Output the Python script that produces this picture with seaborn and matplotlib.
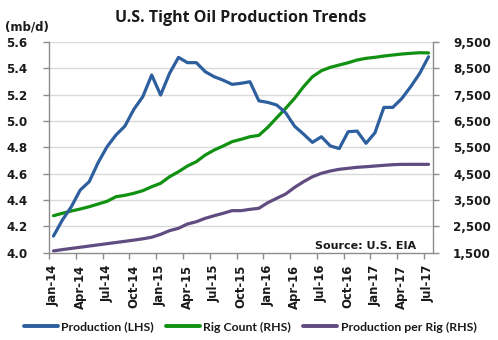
import numpy as np
import pandas as pd
import matplotlib
matplotlib.use("Agg")
import matplotlib.pyplot as plt
import seaborn as sns
from matplotlib.ticker import FixedLocator, FuncFormatter
from matplotlib.lines import Line2D

# Monthly series, Jan-2014 .. Jul-2017
months = pd.date_range("2014-01-01", "2017-07-01", freq="MS")
month_labels = [d.strftime("%b-%y") for d in months]

production_mbd = [
    4.125, 4.247, 4.348, 4.475, 4.538, 4.683, 4.804, 4.893, 4.961, 5.088, 5.184, 5.349,
    5.197, 5.362, 5.483, 5.443, 5.443, 5.374, 5.336, 5.310, 5.278, 5.286, 5.298, 5.153,
    5.141, 5.121, 5.062, 4.960, 4.900, 4.837, 4.880, 4.810, 4.790, 4.918, 4.923, 4.830,
    4.910, 5.103, 5.103, 5.170, 5.260, 5.360, 5.488,
]
rig_count = [
    2898, 2990, 3077, 3153, 3240, 3343, 3445, 3620, 3673, 3750, 3849, 4000,
    4130, 4380, 4570, 4787, 4952, 5205, 5395, 5547, 5712, 5800, 5900, 5952,
    6257, 6622, 6978, 7360, 7800, 8180, 8408, 8537, 8625, 8712, 8815, 8880,
    8918, 8967, 9005, 9043, 9070, 9092, 9085,
]
production_per_rig = [
    1560, 1610, 1655, 1700, 1745, 1790, 1835, 1880, 1925, 1970, 2020, 2080,
    2190, 2330, 2420, 2583, 2670, 2800, 2898, 2990, 3090, 3090, 3140, 3180,
    3393, 3560, 3723, 3975, 4190, 4380, 4510, 4597, 4662, 4700, 4738, 4760,
    4787, 4813, 4837, 4850, 4850, 4850, 4850,
]

left_ticks = [4.0, 4.2, 4.4, 4.6, 4.8, 5.0, 5.2, 5.4, 5.6]
right_ticks = [1500, 2500, 3500, 4500, 5500, 6500, 7500, 8500, 9500]

df = pd.DataFrame({
    "idx": np.arange(len(months)),
    "Production (LHS)": production_mbd,
    "Rig Count (RHS)": rig_count,
    "Production per Rig (RHS)": production_per_rig,
})

BLUE = "#2D5F9E"
GREEN = "#119111"
PURPLE = "#604C80"
GRID = "#D9D9D9"
SPINE = "#8C8C8C"

sns.set_theme(style="white")
plt.rcParams["font.family"] = ["DejaVu Sans"]

fig = plt.figure(figsize=(4.98, 3.40), dpi=100)
ax = fig.add_axes([49 / 498, 1 - 252.5 / 340, (433 - 49) / 498, (252.5 - 42) / 340])
ax2 = ax.twinx()

sns.lineplot(data=df, x="idx", y="Production (LHS)", ax=ax, color=BLUE, lw=2.3, zorder=5)
sns.lineplot(data=df, x="idx", y="Rig Count (RHS)", ax=ax2, color=GREEN, lw=2.3)
sns.lineplot(data=df, x="idx", y="Production per Rig (RHS)", ax=ax2, color=PURPLE, lw=2.3)

# put the blue production line in front of the RHS series
ax.set_zorder(2)
ax.patch.set_visible(False)
ax2.set_zorder(1)

n = len(months)
for a in (ax, ax2):
    a.set_xlim(-0.5, n - 0.5)
    a.set_xlabel("")
    a.set_ylabel("")

ax.set_ylim(4.0, 5.6)
ax2.set_ylim(1500, 9500)

ax.yaxis.set_major_locator(FixedLocator(left_ticks))
ax.yaxis.set_major_formatter(FuncFormatter(lambda v, p: f"{v:.1f}"))
ax2.yaxis.set_major_locator(FixedLocator(right_ticks))
ax2.yaxis.set_major_formatter(FuncFormatter(lambda v, p: f"{int(round(v)):,}"))

# horizontal gridlines on the shared scale
ax2.grid(False)
ax.grid(False)
for t in right_ticks[1:]:
    ax2.axhline(t, color=GRID, lw=1.0, zorder=0)

# quarterly category labels, tick marks sit between categories
label_pos = list(range(0, n, 3))
ax.xaxis.set_major_locator(FixedLocator(label_pos))
ax.set_xticklabels([month_labels[i] for i in label_pos], rotation=90)
ax.xaxis.set_minor_locator(FixedLocator([p - 0.5 for p in label_pos]))
ax.tick_params(axis="x", which="major", length=0, pad=9)
ax.tick_params(axis="x", which="minor", length=4.5, width=1, color=SPINE, bottom=True)
ax2.tick_params(axis="x", which="both", bottom=False, labelbottom=False)

ax.tick_params(axis="y", which="major", left=True, length=4.5, width=1, color=SPINE, pad=11)
ax2.tick_params(axis="y", which="major", right=True, length=4.5, width=1, color=SPINE, pad=10)

for lab in ax.get_xticklabels() + ax.get_yticklabels() + ax2.get_yticklabels():
    lab.set_fontweight("bold")
    lab.set_color("#1A1A1A")
for lab in ax.get_xticklabels():
    lab.set_fontsize(8.4)
for lab in ax.get_yticklabels() + ax2.get_yticklabels():
    lab.set_fontsize(8.6)

for a in (ax, ax2):
    a.spines["top"].set_visible(False)
    for side in ("left", "right", "bottom"):
        a.spines[side].set_color(SPINE)
        a.spines[side].set_linewidth(1.0)
ax.spines["right"].set_visible(False)
ax2.spines["left"].set_visible(False)
ax2.spines["bottom"].set_visible(False)

fig.text(241 / 498, 1 - 18 / 340, "U.S. Tight Oil Production Trends", ha="center", va="center",
         fontsize=11.5, fontweight="bold", family=["Open Sans", "DejaVu Sans"], color="#1A1A1A")
fig.text(5 / 498, 1 - 27 / 340, "(mb/d)", ha="left", va="center",
         fontsize=8.5, fontweight="bold", color="#1A1A1A")
fig.text(416 / 498, 1 - 246 / 340, "Source: U.S. EIA", ha="right", va="center",
         fontsize=8.0, fontweight="bold", color="#1A1A1A")

handles = [Line2D([], [], color=c, lw=2.8) for c in (BLUE, GREEN, PURPLE)]
names = ["Production (LHS)", "Rig Count (RHS)", "Production per Rig (RHS)"]
leg = fig.legend(handles, names, loc="center", bbox_to_anchor=(250 / 498, 1 - 327 / 340),
                 ncol=3, frameon=False, handlelength=2.8, handletextpad=0.25,
                 columnspacing=1.0,
                 prop={"family": ["Lato", "DejaVu Sans"], "size": 8.8, "weight": "bold"})
for t in leg.get_texts():
    t.set_color("#1A1A1A")

fig.savefig("out.png", dpi=100)
